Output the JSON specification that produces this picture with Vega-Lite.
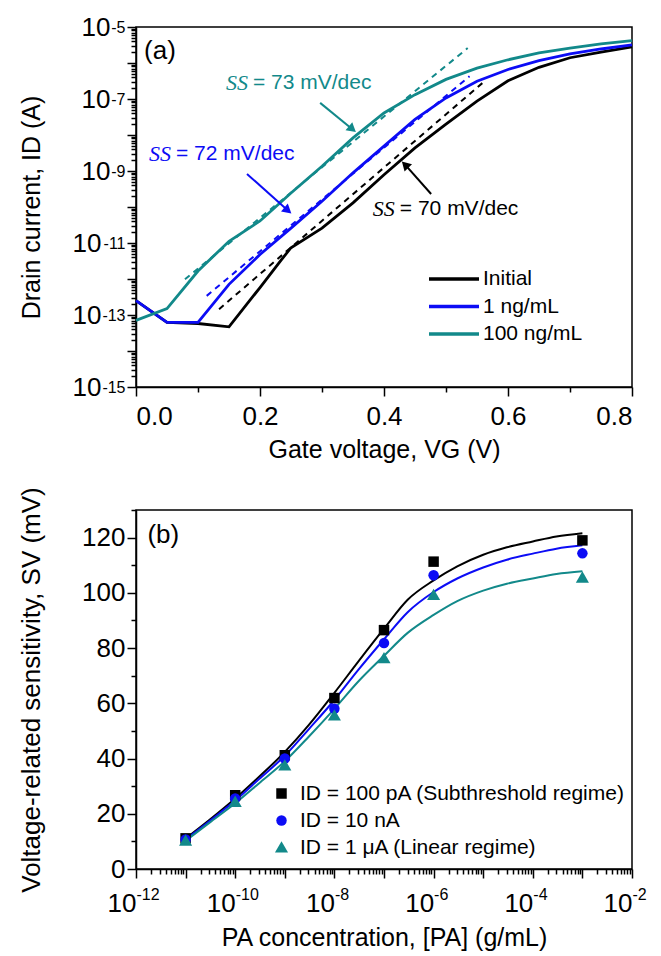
{
  "$schema": "https://vega.github.io/schema/vega-lite/v6.json",
  "padding": {"left": 17, "top": 13, "right": 10, "bottom": 4},
  "spacing": 22,
  "config": {
    "font": "Liberation Sans",
    "view": {"stroke": "black", "strokeWidth": 1.5},
    "axis": {
      "domainColor": "black", "tickColor": "black", "labelColor": "black", "titleColor": "black",
      "labelFont": "Liberation Sans", "titleFont": "Liberation Sans",
      "labelFontSize": 26, "titleFontSize": 25, "titleFontWeight": "normal",
      "grid": false, "tickSize": 9, "tickWidth": 1.5, "domainWidth": 1.5, "labelPadding": 2
    },
    "legend": {"labelFont": "Liberation Sans", "labelColor": "black", "labelLimit": 0}
  },
  "datasets": {
    "curves": [
      {"s": "Initial", "V": 0, "I": 2.5e-13}, {"s": "Initial", "V": 0.05, "I": 6.2e-14}, {"s": "Initial", "V": 0.1, "I": 5.8e-14},
      {"s": "Initial", "V": 0.15, "I": 4.7e-14}, {"s": "Initial", "V": 0.2, "I": 5.8e-13}, {"s": "Initial", "V": 0.235, "I": 3.5e-12},
      {"s": "Initial", "V": 0.25, "I": 7.4e-12}, {"s": "Initial", "V": 0.3, "I": 2.6e-11}, {"s": "Initial", "V": 0.35, "I": 1.3e-10},
      {"s": "Initial", "V": 0.4, "I": 7.9e-10}, {"s": "Initial", "V": 0.45, "I": 4.4e-9}, {"s": "Initial", "V": 0.5, "I": 2.0e-8},
      {"s": "Initial", "V": 0.55, "I": 8.7e-8}, {"s": "Initial", "V": 0.6, "I": 3.2e-7}, {"s": "Initial", "V": 0.65, "I": 7.6e-7},
      {"s": "Initial", "V": 0.7, "I": 1.4e-6}, {"s": "Initial", "V": 0.75, "I": 2.0e-6}, {"s": "Initial", "V": 0.8, "I": 2.8e-6},
      {"s": "1 ng/mL", "V": 0, "I": 2.5e-13}, {"s": "1 ng/mL", "V": 0.05, "I": 6.2e-14}, {"s": "1 ng/mL", "V": 0.1, "I": 6.2e-14},
      {"s": "1 ng/mL", "V": 0.15, "I": 7.1e-13}, {"s": "1 ng/mL", "V": 0.2, "I": 4.8e-12}, {"s": "1 ng/mL", "V": 0.25, "I": 2.6e-11},
      {"s": "1 ng/mL", "V": 0.3, "I": 1.45e-10}, {"s": "1 ng/mL", "V": 0.35, "I": 8.9e-10}, {"s": "1 ng/mL", "V": 0.4, "I": 4.9e-9},
      {"s": "1 ng/mL", "V": 0.45, "I": 2.7e-8}, {"s": "1 ng/mL", "V": 0.5, "I": 1.07e-7}, {"s": "1 ng/mL", "V": 0.55, "I": 3.1e-7},
      {"s": "1 ng/mL", "V": 0.6, "I": 6.6e-7}, {"s": "1 ng/mL", "V": 0.65, "I": 1.17e-6}, {"s": "1 ng/mL", "V": 0.7, "I": 1.78e-6},
      {"s": "1 ng/mL", "V": 0.75, "I": 2.45e-6}, {"s": "1 ng/mL", "V": 0.8, "I": 3.2e-6},
      {"s": "100 ng/mL", "V": 0, "I": 7.1e-14}, {"s": "100 ng/mL", "V": 0.05, "I": 1.5e-13}, {"s": "100 ng/mL", "V": 0.1, "I": 1.66e-12},
      {"s": "100 ng/mL", "V": 0.15, "I": 1.12e-11}, {"s": "100 ng/mL", "V": 0.2, "I": 4.1e-11}, {"s": "100 ng/mL", "V": 0.25, "I": 2.45e-10},
      {"s": "100 ng/mL", "V": 0.3, "I": 1.35e-9}, {"s": "100 ng/mL", "V": 0.35, "I": 8.3e-9}, {"s": "100 ng/mL", "V": 0.4, "I": 4.1e-8},
      {"s": "100 ng/mL", "V": 0.45, "I": 1.32e-7}, {"s": "100 ng/mL", "V": 0.5, "I": 3.5e-7}, {"s": "100 ng/mL", "V": 0.55, "I": 7.2e-7},
      {"s": "100 ng/mL", "V": 0.6, "I": 1.23e-6}, {"s": "100 ng/mL", "V": 0.65, "I": 1.9e-6}, {"s": "100 ng/mL", "V": 0.7, "I": 2.6e-6},
      {"s": "100 ng/mL", "V": 0.75, "I": 3.4e-6}, {"s": "100 ng/mL", "V": 0.8, "I": 4.2e-6}
    ],
    "fits": [
      {"s": "Initial", "V": 0.134, "I": 1.45e-13}, {"s": "Initial", "V": 0.562, "I": 3.1e-7},
      {"s": "1 ng/mL", "V": 0.114, "I": 3.4e-13}, {"s": "1 ng/mL", "V": 0.538, "I": 4.3e-7},
      {"s": "100 ng/mL", "V": 0.079, "I": 9.8e-13}, {"s": "100 ng/mL", "V": 0.535, "I": 2.6e-6}
    ],
    "arrows": [
      {"s": "100 ng/mL", "V1": 0.297, "I1": 7.8e-8, "V2": 0.349, "I2": 1.45e-8},
      {"s": "1 ng/mL", "V1": 0.179, "I1": 8.3e-10, "V2": 0.245, "I2": 8.0e-11},
      {"s": "Initial", "V1": 0.476, "I1": 2.3e-10, "V2": 0.434, "I2": 1.5e-9}
    ],
    "ann": [
      {"s": "100 ng/mL", "V": 0.145, "I": 2.8e-7, "t": "= 73 mV/dec"},
      {"s": "1 ng/mL", "V": 0.021, "I": 3.0e-9, "t": "= 72 mV/dec"},
      {"s": "Initial", "V": 0.382, "I": 8.7e-11, "t": "= 70 mV/dec"}
    ],
    "sens": [
      {"s": "ID = 100 pA (Subthreshold regime)", "c": 1e-11, "S": 11.1}, {"s": "ID = 100 pA (Subthreshold regime)", "c": 1e-10, "S": 26.7},
      {"s": "ID = 100 pA (Subthreshold regime)", "c": 1e-9, "S": 41.2}, {"s": "ID = 100 pA (Subthreshold regime)", "c": 1e-8, "S": 61.9},
      {"s": "ID = 100 pA (Subthreshold regime)", "c": 1e-7, "S": 86.5}, {"s": "ID = 100 pA (Subthreshold regime)", "c": 1e-6, "S": 111.3},
      {"s": "ID = 100 pA (Subthreshold regime)", "c": 1e-3, "S": 119.0},
      {"s": "ID = 10 nA", "c": 1e-11, "S": 10.7}, {"s": "ID = 10 nA", "c": 1e-10, "S": 25.5}, {"s": "ID = 10 nA", "c": 1e-9, "S": 40.0},
      {"s": "ID = 10 nA", "c": 1e-8, "S": 58.0}, {"s": "ID = 10 nA", "c": 1e-7, "S": 81.8}, {"s": "ID = 10 nA", "c": 1e-6, "S": 106.4},
      {"s": "ID = 10 nA", "c": 1e-3, "S": 114.3},
      {"s": "ID = 1 μA (Linear regime)", "c": 1e-11, "S": 10.2}, {"s": "ID = 1 μA (Linear regime)", "c": 1e-10, "S": 24.3},
      {"s": "ID = 1 μA (Linear regime)", "c": 1e-9, "S": 37.5}, {"s": "ID = 1 μA (Linear regime)", "c": 1e-8, "S": 55.6},
      {"s": "ID = 1 μA (Linear regime)", "c": 1e-7, "S": 76.3}, {"s": "ID = 1 μA (Linear regime)", "c": 1e-6, "S": 99.2},
      {"s": "ID = 1 μA (Linear regime)", "c": 1e-3, "S": 105.5}
    ],
    "sfit": [
      {"s": "ID = 100 pA (Subthreshold regime)", "c": 1e-11, "S": 11}, {"s": "ID = 100 pA (Subthreshold regime)", "c": 3e-11, "S": 17.7},
      {"s": "ID = 100 pA (Subthreshold regime)", "c": 1e-10, "S": 25.5}, {"s": "ID = 100 pA (Subthreshold regime)", "c": 3e-10, "S": 33.3},
      {"s": "ID = 100 pA (Subthreshold regime)", "c": 1e-9, "S": 42.4}, {"s": "ID = 100 pA (Subthreshold regime)", "c": 3e-9, "S": 52},
      {"s": "ID = 100 pA (Subthreshold regime)", "c": 1e-8, "S": 63.8}, {"s": "ID = 100 pA (Subthreshold regime)", "c": 3e-8, "S": 75},
      {"s": "ID = 100 pA (Subthreshold regime)", "c": 1e-7, "S": 87}, {"s": "ID = 100 pA (Subthreshold regime)", "c": 3e-7, "S": 97.5},
      {"s": "ID = 100 pA (Subthreshold regime)", "c": 1e-6, "S": 104.5}, {"s": "ID = 100 pA (Subthreshold regime)", "c": 3e-6, "S": 109.6},
      {"s": "ID = 100 pA (Subthreshold regime)", "c": 1e-5, "S": 113.8}, {"s": "ID = 100 pA (Subthreshold regime)", "c": 3e-5, "S": 116.5},
      {"s": "ID = 100 pA (Subthreshold regime)", "c": 1e-4, "S": 118.6}, {"s": "ID = 100 pA (Subthreshold regime)", "c": 3e-4, "S": 120.4},
      {"s": "ID = 100 pA (Subthreshold regime)", "c": 1e-3, "S": 121.6},
      {"s": "ID = 10 nA", "c": 1e-11, "S": 10.7}, {"s": "ID = 10 nA", "c": 3e-11, "S": 17.3}, {"s": "ID = 10 nA", "c": 1e-10, "S": 24.8},
      {"s": "ID = 10 nA", "c": 3e-10, "S": 32.5}, {"s": "ID = 10 nA", "c": 1e-9, "S": 41}, {"s": "ID = 10 nA", "c": 3e-9, "S": 50.5},
      {"s": "ID = 10 nA", "c": 1e-8, "S": 61.2}, {"s": "ID = 10 nA", "c": 3e-8, "S": 72}, {"s": "ID = 10 nA", "c": 1e-7, "S": 83.2},
      {"s": "ID = 10 nA", "c": 3e-7, "S": 93}, {"s": "ID = 10 nA", "c": 1e-6, "S": 100.3}, {"s": "ID = 10 nA", "c": 3e-6, "S": 105.2},
      {"s": "ID = 10 nA", "c": 1e-5, "S": 109.2}, {"s": "ID = 10 nA", "c": 3e-5, "S": 112}, {"s": "ID = 10 nA", "c": 1e-4, "S": 114.2},
      {"s": "ID = 10 nA", "c": 3e-4, "S": 116}, {"s": "ID = 10 nA", "c": 1e-3, "S": 117.2},
      {"s": "ID = 1 μA (Linear regime)", "c": 1e-11, "S": 10.2}, {"s": "ID = 1 μA (Linear regime)", "c": 3e-11, "S": 16.7},
      {"s": "ID = 1 μA (Linear regime)", "c": 1e-10, "S": 23.8}, {"s": "ID = 1 μA (Linear regime)", "c": 3e-10, "S": 31},
      {"s": "ID = 1 μA (Linear regime)", "c": 1e-9, "S": 39}, {"s": "ID = 1 μA (Linear regime)", "c": 3e-9, "S": 47.8},
      {"s": "ID = 1 μA (Linear regime)", "c": 1e-8, "S": 58}, {"s": "ID = 1 μA (Linear regime)", "c": 3e-8, "S": 67.8},
      {"s": "ID = 1 μA (Linear regime)", "c": 1e-7, "S": 77.2}, {"s": "ID = 1 μA (Linear regime)", "c": 3e-7, "S": 85.5},
      {"s": "ID = 1 μA (Linear regime)", "c": 1e-6, "S": 92}, {"s": "ID = 1 μA (Linear regime)", "c": 3e-6, "S": 97},
      {"s": "ID = 1 μA (Linear regime)", "c": 1e-5, "S": 100.8}, {"s": "ID = 1 μA (Linear regime)", "c": 3e-5, "S": 103.3},
      {"s": "ID = 1 μA (Linear regime)", "c": 1e-4, "S": 105.2}, {"s": "ID = 1 μA (Linear regime)", "c": 3e-4, "S": 106.8},
      {"s": "ID = 1 μA (Linear regime)", "c": 1e-3, "S": 107.8}
    ],
    "tagA": [{"V": 0.013, "I": 2.1e-6, "t": "(a)"}],
    "tagB": [{"c": 1.7e-12, "S": 121, "t": "(b)"}]
  },
  "vconcat": [
    {
      "width": 496,
      "height": 360,
      "layer": [
        {
          "data": {"name": "curves"},
          "mark": {"type": "line", "strokeWidth": 2.8},
          "encoding": {
            "x": {"field": "V", "type": "quantitative", "scale": {"domain": [0, 0.8]},
              "axis": {"values": [0, 0.2, 0.4, 0.6, 0.8], "format": ".1f", "labelPadding": 7, "title": "Gate voltage, VG (V)", "titlePadding": 8}},
            "y": {"field": "I", "type": "quantitative", "scale": {"type": "log", "domain": [1e-15, 1e-5]},
              "axis": {"values": [1e-15, 1e-14, 1e-13, 1e-12, 1e-11, 1e-10, 1e-9, 1e-8, 1e-7, 1e-6, 1e-5],
                "labelExpr": "abs(round(log(datum.value)/LN10)) % 2 == 1 ? '10' : ''",
                "labelPadding": {"condition": {"test": "datum.value < 1e-9", "value": 26}, "value": 17},
                "title": "Drain current, ID (A)", "titleX": -105, "titleBaseline": "middle"}},
            "color": {"field": "s", "type": "nominal",
              "scale": {"domain": ["Initial", "1 ng/mL", "100 ng/mL"], "range": ["#000000", "#0c0cf5", "#12898a"]},
              "legend": {"orient": "none", "legendX": 306, "legendY": 240, "title": null, "labelFontSize": 21,
                "symbolType": "M-2.5,0H2.5", "symbolSize": 400, "symbolStrokeWidth": 3.5, "rowPadding": 5.5, "labelOffset": 17}}
          }
        },
        {
          "data": {"name": "fits"},
          "mark": {"type": "line", "strokeWidth": 2, "strokeDash": [6, 5]},
          "encoding": {
            "x": {"field": "V", "type": "quantitative",
              "axis": {"orient": "bottom", "values": [0.1, 0.3, 0.5, 0.7], "tickSize": 5, "labels": false, "domain": false, "title": null}},
            "y": {"field": "I", "type": "quantitative",
              "axis": {"orient": "left", "tickSize": 5, "labels": false, "domain": false, "title": null,
                "values": [2e-15,3e-15,4e-15,5e-15,6e-15,7e-15,8e-15,9e-15,2e-14,3e-14,4e-14,5e-14,6e-14,7e-14,8e-14,9e-14,2e-13,3e-13,4e-13,5e-13,6e-13,7e-13,8e-13,9e-13,2e-12,3e-12,4e-12,5e-12,6e-12,7e-12,8e-12,9e-12,2e-11,3e-11,4e-11,5e-11,6e-11,7e-11,8e-11,9e-11,2e-10,3e-10,4e-10,5e-10,6e-10,7e-10,8e-10,9e-10,2e-9,3e-9,4e-9,5e-9,6e-9,7e-9,8e-9,9e-9,2e-8,3e-8,4e-8,5e-8,6e-8,7e-8,8e-8,9e-8,2e-7,3e-7,4e-7,5e-7,6e-7,7e-7,8e-7,9e-7,2e-6,3e-6,4e-6,5e-6,6e-6,7e-6,8e-6,9e-6]}},
            "color": {"field": "s", "type": "nominal",
              "scale": {"domain": ["Initial", "1 ng/mL", "100 ng/mL"], "range": ["#000000", "#0c0cf5", "#12898a"]}, "legend": null}
          }
        },
        {
          "data": {"name": "arrows"},
          "mark": {"type": "rule", "strokeWidth": 2},
          "encoding": {
            "x": {"field": "V1", "type": "quantitative", "axis": null},
            "y": {"field": "I1", "type": "quantitative",
              "axis": {"orient": "left", "values": [1e-15, 1e-13, 1e-11, 1e-9, 1e-7, 1e-5], "tickSize": 9, "tickOpacity": 0, "domain": false, "title": null,
                "labelExpr": "'' + round(log(datum.value)/LN10)", "labelFontSize": 16, "labelAlign": "right", "labelPadding": 2, "labelDy": -9}},
            "x2": {"field": "V2"},
            "y2": {"field": "I2"},
            "color": {"field": "s", "type": "nominal",
              "scale": {"domain": ["Initial", "1 ng/mL", "100 ng/mL"], "range": ["#000000", "#0c0cf5", "#12898a"]}, "legend": null}
          }
        },
        {
          "data": {"name": "arrows"},
          "transform": [{"filter": "datum.s != 'Initial'"}],
          "mark": {"type": "point", "shape": "triangle-up", "filled": true, "opacity": 1, "size": 110, "angle": 130},
          "encoding": {
            "x": {"field": "V2", "type": "quantitative", "axis": null},
            "y": {"field": "I2", "type": "quantitative", "axis": null},
            "color": {"field": "s", "type": "nominal",
              "scale": {"domain": ["Initial", "1 ng/mL", "100 ng/mL"], "range": ["#000000", "#0c0cf5", "#12898a"]}, "legend": null}
          }
        },
        {
          "data": {"name": "arrows"},
          "transform": [{"filter": "datum.s == 'Initial'"}],
          "mark": {"type": "point", "shape": "triangle-up", "filled": true, "opacity": 1, "size": 110, "angle": 315, "color": "black"},
          "encoding": {
            "x": {"field": "V2", "type": "quantitative", "axis": null},
            "y": {"field": "I2", "type": "quantitative", "axis": null}
          }
        },
        {
          "data": {"name": "ann"},
          "mark": {"type": "text", "text": "SS", "font": "Liberation Serif", "fontStyle": "italic", "fontSize": 22, "align": "left", "baseline": "middle"},
          "encoding": {
            "x": {"field": "V", "type": "quantitative", "axis": null},
            "y": {"field": "I", "type": "quantitative", "axis": null},
            "color": {"field": "s", "type": "nominal",
              "scale": {"domain": ["Initial", "1 ng/mL", "100 ng/mL"], "range": ["#000000", "#0c0cf5", "#12898a"]}, "legend": null}
          }
        },
        {
          "data": {"name": "ann"},
          "mark": {"type": "text", "font": "Liberation Sans", "fontSize": 21, "align": "left", "baseline": "middle", "dx": 27},
          "encoding": {
            "x": {"field": "V", "type": "quantitative", "axis": null},
            "y": {"field": "I", "type": "quantitative", "axis": null},
            "text": {"field": "t"},
            "color": {"field": "s", "type": "nominal",
              "scale": {"domain": ["Initial", "1 ng/mL", "100 ng/mL"], "range": ["#000000", "#0c0cf5", "#12898a"]}, "legend": null}
          }
        },
        {
          "data": {"name": "tagA"},
          "mark": {"type": "text", "font": "Liberation Sans", "fontSize": 26, "align": "left", "baseline": "middle", "color": "black"},
          "encoding": {
            "x": {"field": "V", "type": "quantitative", "axis": null},
            "y": {"field": "I", "type": "quantitative", "axis": null},
            "text": {"field": "t"}
          }
        }
      ],
      "resolve": {"scale": {"color": "independent"}, "axis": {"x": "independent", "y": "independent"}}
    },
    {
      "width": 496,
      "height": 359,
      "layer": [
        {
          "data": {"name": "sfit"},
          "mark": {"type": "line", "strokeWidth": 2, "interpolate": "monotone"},
          "encoding": {
            "x": {"field": "c", "type": "quantitative", "scale": {"type": "log", "domain": [1e-12, 1e-2]},
              "axis": {"values": [1e-12, 1e-11, 1e-10, 1e-9, 1e-8, 1e-7, 1e-6, 1e-5, 1e-4, 1e-3, 1e-2],
                "labelPadding": 12, "labelAlign": "right", "labelDx": 4,
                "labelExpr": "abs(round(log(datum.value)/LN10)) % 2 == 0 ? '10' : ''",
                "title": "PA concentration, [PA] (g/mL)", "titlePadding": 9}},
            "y": {"field": "S", "type": "quantitative", "scale": {"domain": [0, 130]},
              "axis": {"values": [0, 20, 40, 60, 80, 100, 120], "title": "Voltage-related sensitivity, SV (mV)", "titleFontSize": 26, "titleX": -105, "titleBaseline": "middle"}},
            "color": {"field": "s", "type": "nominal",
              "scale": {"domain": ["ID = 100 pA (Subthreshold regime)", "ID = 10 nA", "ID = 1 μA (Linear regime)"], "range": ["#000000", "#0c0cf5", "#12898a"]}, "legend": null}
          }
        },
        {
          "data": {"name": "sens"},
          "mark": {"type": "point", "filled": true, "opacity": 1, "size": 110},
          "encoding": {
            "x": {"field": "c", "type": "quantitative",
              "axis": {"orient": "bottom", "tickSize": 5, "labels": false, "domain": false, "title": null,
                "values": [2e-12,3e-12,4e-12,5e-12,6e-12,7e-12,8e-12,9e-12,2e-11,3e-11,4e-11,5e-11,6e-11,7e-11,8e-11,9e-11,2e-10,3e-10,4e-10,5e-10,6e-10,7e-10,8e-10,9e-10,2e-9,3e-9,4e-9,5e-9,6e-9,7e-9,8e-9,9e-9,2e-8,3e-8,4e-8,5e-8,6e-8,7e-8,8e-8,9e-8,2e-7,3e-7,4e-7,5e-7,6e-7,7e-7,8e-7,9e-7,2e-6,3e-6,4e-6,5e-6,6e-6,7e-6,8e-6,9e-6,2e-5,3e-5,4e-5,5e-5,6e-5,7e-5,8e-5,9e-5,2e-4,3e-4,4e-4,5e-4,6e-4,7e-4,8e-4,9e-4,2e-3,3e-3,4e-3,5e-3,6e-3,7e-3,8e-3,9e-3]}},
            "y": {"field": "S", "type": "quantitative",
              "axis": {"orient": "left", "tickSize": 5, "labels": false, "domain": false, "title": null, "values": [10, 30, 50, 70, 90, 110, 130]}},
            "color": {"field": "s", "type": "nominal",
              "scale": {"domain": ["ID = 100 pA (Subthreshold regime)", "ID = 10 nA", "ID = 1 μA (Linear regime)"], "range": ["#000000", "#0c0cf5", "#12898a"]},
              "legend": {"orient": "none", "legendX": 135, "legendY": 273, "title": null, "labelFontSize": 21, "symbolSize": 110, "rowPadding": 5, "labelOffset": 8}},
            "shape": {"field": "s", "type": "nominal",
              "scale": {"domain": ["ID = 100 pA (Subthreshold regime)", "ID = 10 nA", "ID = 1 μA (Linear regime)"], "range": ["square", "circle", "M0,-1.2L1.25,0.95L-1.25,0.95Z"]},
              "legend": {"orient": "none", "legendX": 135, "legendY": 273, "title": null, "labelFontSize": 21, "symbolSize": 110, "rowPadding": 5, "labelOffset": 8}}
          }
        },
        {
          "data": {"name": "tagB"},
          "mark": {"type": "text", "font": "Liberation Sans", "fontSize": 26, "align": "left", "baseline": "middle", "color": "black"},
          "encoding": {
            "x": {"field": "c", "type": "quantitative",
              "axis": {"orient": "bottom", "values": [1e-12, 1e-10, 1e-8, 1e-6, 1e-4, 1e-2], "tickSize": 9, "tickOpacity": 0, "domain": false, "title": null,
                "labelExpr": "'' + round(log(datum.value)/LN10)", "labelFontSize": 16, "labelAlign": "left", "labelDx": 4, "labelPadding": 8}},
            "y": {"field": "S", "type": "quantitative", "axis": null},
            "text": {"field": "t"}
          }
        }
      ],
      "resolve": {"scale": {"color": "independent", "shape": "independent"}, "axis": {"x": "independent", "y": "independent"}}
    }
  ]
}
